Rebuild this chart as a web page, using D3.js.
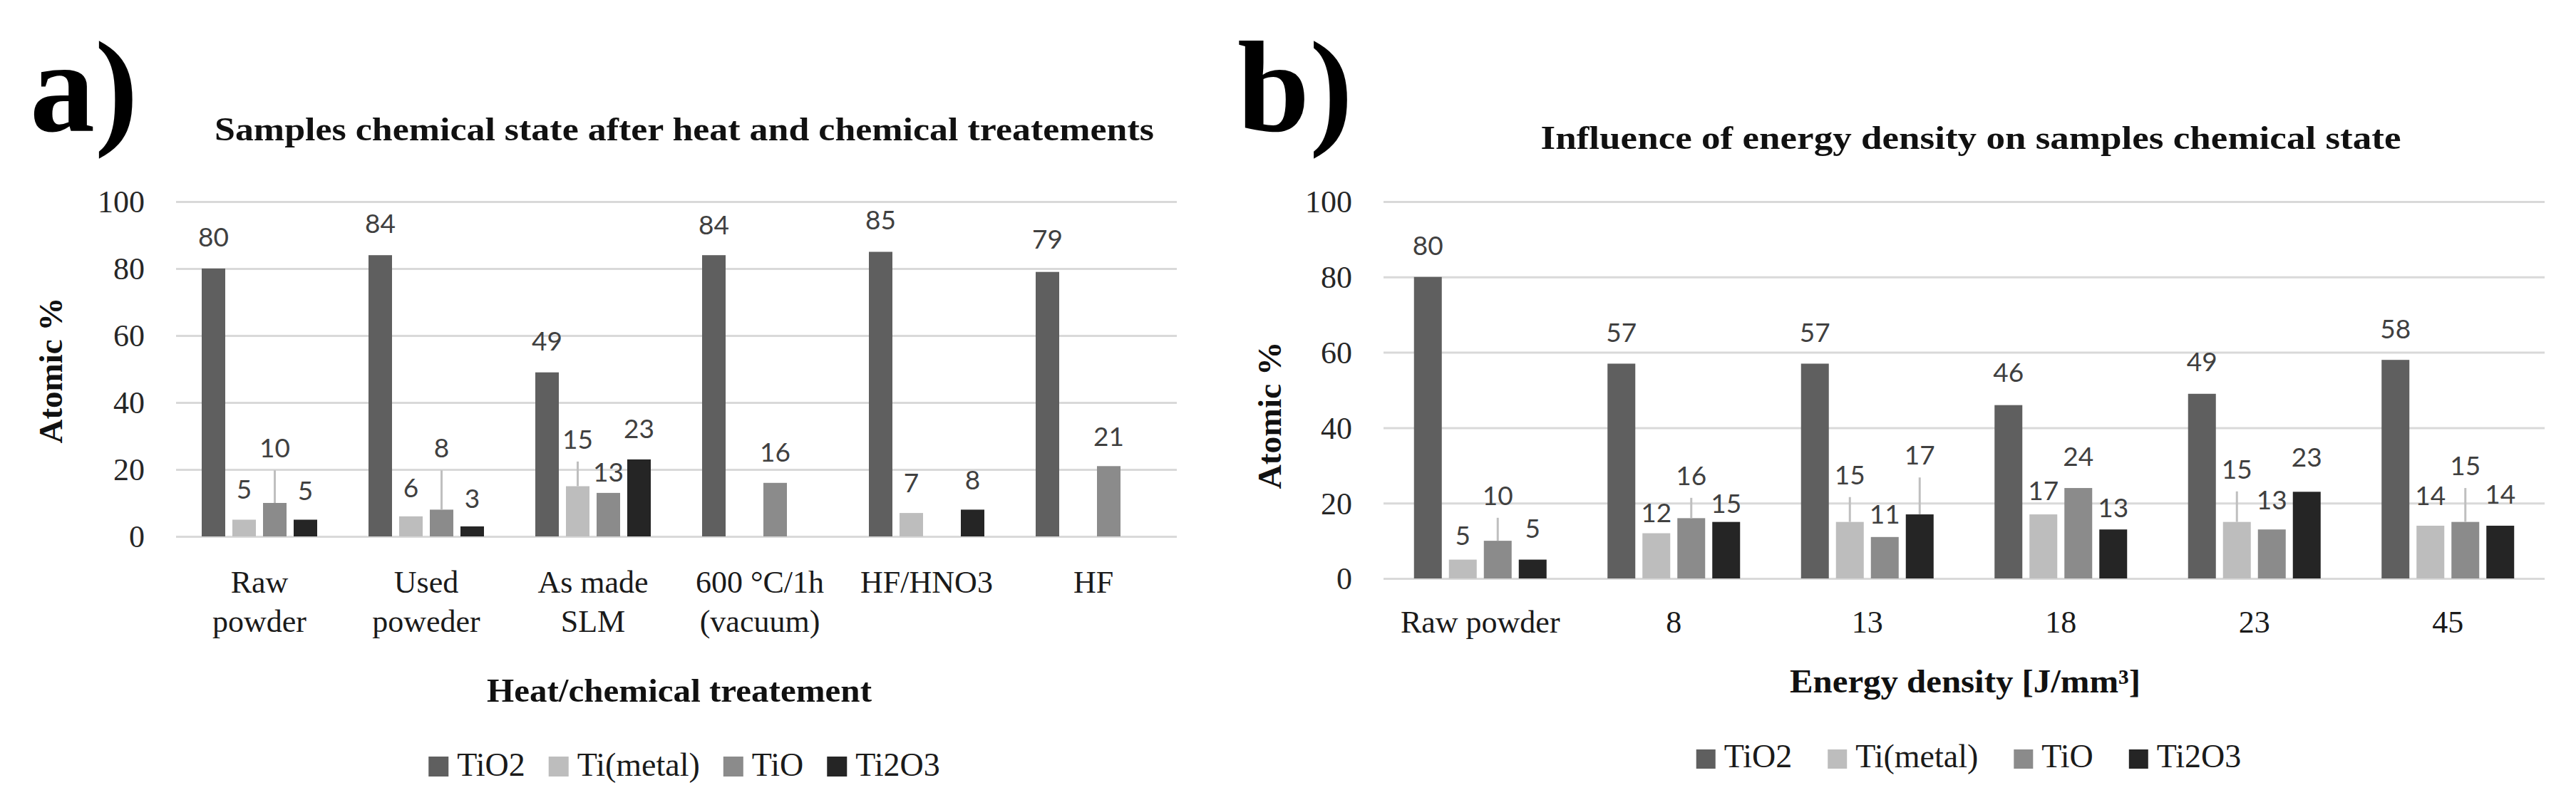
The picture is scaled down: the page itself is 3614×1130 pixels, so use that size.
<!DOCTYPE html>
<html><head><meta charset="utf-8">
<script src="https://cdn.jsdelivr.net/npm/d3@7"></script>
<style>
html,body{margin:0;padding:0;background:#fff;}
svg{display:block;}
</style></head><body>
<svg id="chart" width="3614" height="1130"></svg>
<script>
// ---------------- data ----------------
const seriesNames = ["TiO2", "Ti(metal)", "TiO", "Ti2O3"];
const yTicks = [0, 20, 40, 60, 80, 100];

// panel a) heat / chemical treatments
const categoriesA = ["Raw\npowder", "Used\npoweder", "As made\nSLM", "600 °C/1h\n(vacuum)", "HF/HNO3", "HF"];
const tio2A    = [80, 84, 49, 84, 85, 79];
const timetalA = [5, 6, 15, null, 7, null];
const tioA     = [10, 8, 13, 16, null, 21];
const ti2o3A   = [5, 3, 23, null, 8, null];

// panel b) energy density
const categoriesB = ["Raw powder", "8", "13", "18", "23", "45"];
const tio2B    = [80, 57, 57, 46, 49, 58];
const timetalB = [5, 12, 15, 17, 15, 14];
const tioB     = [10, 16, 11, 24, 13, 15];
const ti2o3B   = [5, 15, 17, 13, 23, 14];

// data-label heights (axis units, label baseline) as placed in the original
const labelTio2A    = [86.6, 90.6, 55.5, 90.3, 91.7, 86.0];
const labelTimetalA = [11.3, 11.7, 26.2, null, 13.2, null];
const labelTioA     = [23.6, 23.6, 16.4, 22.3, null, 27.0];
const labelTi2o3A   = [10.9, 8.5, 29.4, null, 14.0, null];

const labelTio2B    = [85.8, 62.8, 62.8, 52.2, 55.0, 63.7];
const labelTimetalB = [8.9, 14.9, 25.0, 20.8, 26.5, 19.5];
const labelTioB     = [19.5, 24.8, 14.6, 29.9, 18.3, 27.4];
const labelTi2o3B   = [10.8, 17.4, 30.2, 16.3, 29.7, 19.8];

// ---------------- style ----------------
const seriesColors = ["#5f5f5f", "#bdbdbd", "#8b8b8b", "#252525"];
const SERIF = "'Palatino Linotype','Book Antiqua',Palatino,'Liberation Serif','DejaVu Serif',serif";
const SANS = "Lato,'Open Sans','Liberation Sans',sans-serif";

const svg = d3.select("#chart");

function drawPanel(o) {
  const g = svg.append("g");
  const x = d3.scaleBand().domain(d3.range(o.cats.length)).range([o.left, o.right]).padding(0);
  const xs = d3.scaleBand().domain(d3.range(seriesNames.length))
    .range([o.groupPad, x.bandwidth() - o.groupPad]).paddingInner(o.barGap).paddingOuter(0);
  const y = d3.scaleLinear().domain([0, 100]).range([o.bottom, o.top]);

  // gridlines + tick labels
  const ax = g.append("g").attr("transform", `translate(${o.left},0)`)
    .call(d3.axisLeft(y).tickValues(yTicks).tickSize(-(o.right - o.left)).tickSizeOuter(0).tickPadding(o.tickPad));
  ax.select(".domain").remove();
  ax.selectAll(".tick line").attr("stroke", "#d9d9d9").attr("stroke-width", 3);
  ax.selectAll(".tick text").attr("font-family", SERIF).attr("font-size", 44)
    .attr("fill", "#262626").attr("dy", "0.34em");

  // bars
  o.values.forEach((vals, s) => {
    g.append("g").selectAll("rect")
      .data(vals.map((v, i) => ({ v, i })).filter(d => d.v != null))
      .join("rect")
      .attr("x", d => x(d.i) + xs(s))
      .attr("y", d => y(d.v))
      .attr("width", xs.bandwidth())
      .attr("height", d => y(0) - y(d.v))
      .attr("fill", seriesColors[s]);
  });

  // leader lines + data labels
  o.values.forEach((vals, s) => {
    vals.forEach((v, i) => {
      if (v == null) return;
      const lab = o.labels[s][i];
      const cx = x(i) + xs(s) + xs.bandwidth() / 2;
      const ly = y(lab);
      if (y(v) - ly > 40) {
        g.append("line").attr("x1", cx).attr("x2", cx)
          .attr("y1", ly + 18).attr("y2", y(v))
          .attr("stroke", "#bfbfbf").attr("stroke-width", 3);
      }
      g.append("text").attr("x", cx).attr("y", ly)
        .attr("text-anchor", "middle").attr("font-family", SANS)
        .attr("font-size", 37).attr("fill", "#404040")
        .text(Math.round(v));
    });
  });

  // category labels
  o.cats.forEach((c, i) => {
    c.split("\n").forEach((line, k) => {
      g.append("text").attr("x", x(i) + x.bandwidth() / 2)
        .attr("y", o.catBase + k * 55)
        .attr("text-anchor", "middle").attr("font-family", SERIF)
        .attr("font-size", 44).attr("fill", "#1a1a1a").text(line);
    });
  });

  // title
  g.append("text").attr("x", o.titleX).attr("y", o.titleY)
    .attr("text-anchor", "middle").attr("font-family", SERIF).attr("font-weight", "bold")
    .attr("font-size", 47).attr("fill", "#111")
    .attr("textLength", o.titleLen).attr("lengthAdjust", "spacingAndGlyphs")
    .text(o.title);

  // x axis title
  g.append("text").attr("x", o.xTitleX).attr("y", o.xTitleY)
    .attr("text-anchor", "middle").attr("font-family", SERIF).attr("font-weight", "bold")
    .attr("font-size", 47).attr("fill", "#111")
    .attr("textLength", o.xTitleLen).attr("lengthAdjust", "spacingAndGlyphs")
    .text(o.xTitle);

  // y axis title
  g.append("text").attr("transform", `translate(${o.yTitleX},${o.yTitleY}) rotate(-90)`)
    .attr("text-anchor", "middle").attr("font-family", SERIF).attr("font-weight", "bold")
    .attr("font-size", 47).attr("fill", "#111")
    .attr("textLength", o.yTitleLen).attr("lengthAdjust", "spacingAndGlyphs")
    .text("Atomic %");

  // panel letter
  g.append("text").attr("x", o.letterX).attr("y", 184)
    .attr("font-family", SERIF).attr("font-weight", "bold")
    .attr("font-size", 182).attr("fill", "#000").text(o.letter);

  // legend
  const lg = g.append("g");
  const items = seriesNames.map((name, s) => {
    const it = lg.append("g");
    it.append("rect").attr("width", o.sq).attr("height", o.sq).attr("y", o.legY).attr("fill", seriesColors[s]);
    const t = it.append("text").attr("x", o.sq + 12).attr("y", o.legBase)
      .attr("font-family", SERIF).attr("font-size", 46).attr("fill", "#1a1a1a").text(name);
    return { it, w: o.sq + 12 + t.node().getComputedTextLength() };
  });
  const total = d3.sum(items, d => d.w) + o.itemGap * (items.length - 1);
  let cx = o.legCenter - total / 2;
  items.forEach(d => { d.it.attr("transform", `translate(${cx},0)`); cx += d.w + o.itemGap; });
}

drawPanel({
  cats: categoriesA,
  values: [tio2A, timetalA, tioA, ti2o3A],
  labels: [labelTio2A, labelTimetalA, labelTioA, labelTi2o3A],
  left: 247, right: 1651, top: 283, bottom: 753,
  groupPad: 36, barGap: 10 / 43, tickPad: 44,
  catBase: 832,
  title: "Samples chemical state after heat and chemical treatements",
  titleX: 960, titleY: 197, titleLen: 1318,
  xTitle: "Heat/chemical treatement", xTitleX: 953, xTitleY: 985, xTitleLen: 540,
  yTitleX: 87, yTitleY: 520, yTitleLen: 205,
  letter: "a)", letterX: 42,
  sq: 28, legY: 1062, legBase: 1089, legCenter: 960, itemGap: 33
});

drawPanel({
  cats: categoriesB,
  values: [tio2B, timetalB, tioB, ti2o3B],
  labels: [labelTio2B, labelTimetalB, labelTioB, labelTi2o3B],
  left: 1941, right: 3570, top: 283, bottom: 812,
  groupPad: 42.75, barGap: 10 / 49, tickPad: 44,
  catBase: 888,
  title: "Influence of energy density on samples chemical state",
  titleX: 2765, titleY: 209, titleLen: 1207,
  xTitle: "Energy density [J/mm³]", xTitleX: 2757, xTitleY: 972, xTitleLen: 492,
  yTitleX: 1797, yTitleY: 583, yTitleLen: 207,
  letter: "b)", letterX: 1736,
  sq: 27, legY: 1052, legBase: 1077, legCenter: 2762, itemGap: 50
});
</script>
</body></html>
